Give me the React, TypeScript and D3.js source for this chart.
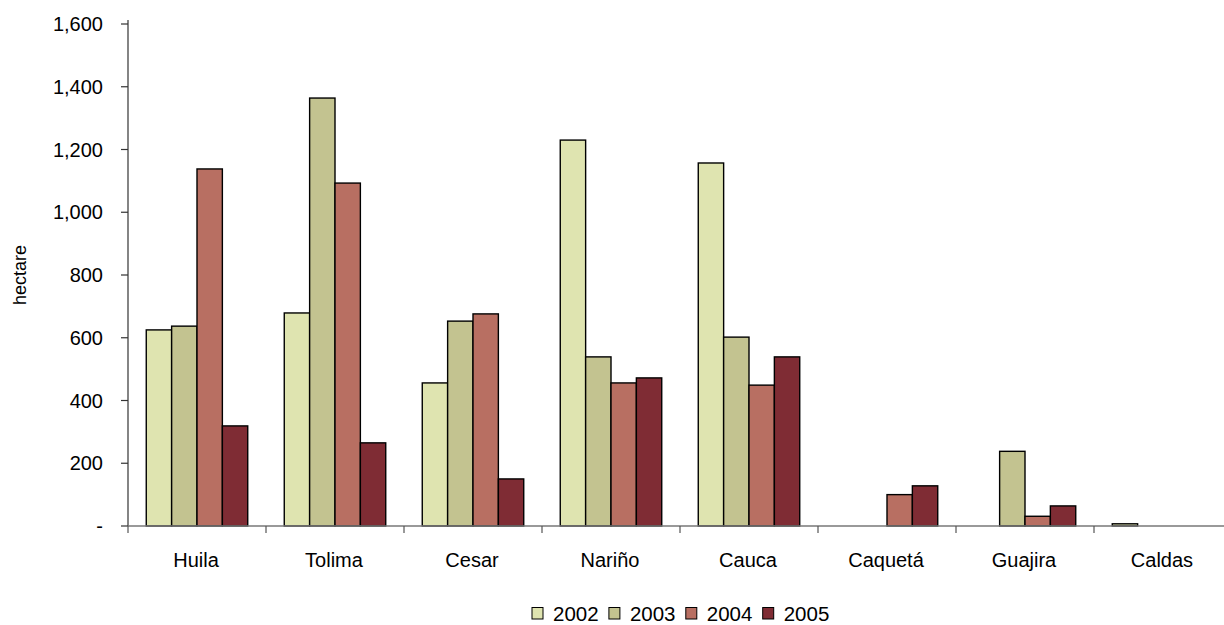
import * as d3 from 'd3'

const regions = ['Huila', 'Tolima', 'Cesar', 'Nariño', 'Cauca', 'Caquetá', 'Guajira', 'Caldas']
const years = ['2002', '2003', '2004', '2005']
const y2002 = [625, 679, 456, 1230, 1157, 0, 0, 7]
const y2003 = [637, 1364, 653, 539, 602, 0, 238, 0]
const y2004 = [1138, 1093, 676, 456, 449, 100, 31, 0]
const y2005 = [319, 265, 150, 472, 539, 128, 64, 0]
const yTicks = [0, 200, 400, 600, 800, 1000, 1200, 1400, 1600]

const series = [y2002, y2003, y2004, y2005]
const COLORS = ['#DFE4B0', '#C3C390', '#B86F62', '#7F2C34']

const W = 1224
const H = 625
const margin = { top: 24, left: 128, bottom: 99 }
const plotRight = 1232

export default function App() {
  const x = d3.scaleBand<string>()
    .domain(regions)
    .range([margin.left, plotRight])
    .paddingInner(0)
    .paddingOuter(0)

  const inner = d3.scaleBand<string>()
    .domain(years)
    .range([0, x.bandwidth()])
    .paddingOuter(0.72)
    .paddingInner(0)

  const y = d3.scaleLinear()
    .domain([0, 1600])
    .range([H - margin.bottom, margin.top])

  const fmt = d3.format(',')
  const base = y(0)
  const font = '"Liberation Sans", Arial, sans-serif'

  const boundaries = [...regions.map((r) => x(r) as number), plotRight]

  return (
    <svg width={W} height={H} style={{ position: 'absolute', left: 0, top: 0, background: '#fff' }} fontFamily={font}>
      {/* bars */}
      {series.map((vals, si) =>
        vals.map((v, ri) =>
          v > 0 ? (
            <rect
              key={`${si}-${ri}`}
              x={(x(regions[ri]) as number) + (inner(years[si]) as number)}
              y={y(v)}
              width={inner.bandwidth()}
              height={base - y(v)}
              fill={COLORS[si]}
              stroke="#000"
              strokeWidth={1.4}
            />
          ) : null
        )
      )}

      {/* y axis */}
      <line x1={margin.left} x2={margin.left} y1={margin.top - 4} y2={base} stroke="#333" strokeWidth={1.2} />
      {yTicks.map((t) => (
        <g key={t}>
          <line x1={margin.left - 7} x2={margin.left} y1={y(t)} y2={y(t)} stroke="#333" strokeWidth={1.2} />
          <text x={103} y={y(t)} dy="0.36em" textAnchor="end" fontSize={20} fill="#000">
            {t === 0 ? '-' : fmt(t)}
          </text>
        </g>
      ))}

      {/* x axis */}
      <line x1={margin.left} x2={W} y1={base} y2={base} stroke="#777" strokeWidth={1.4} />
      {boundaries.map((b, i) => (
        <line key={i} x1={b} x2={b} y1={base} y2={base + 7} stroke="#555" strokeWidth={1.2} />
      ))}
      {regions.map((r) => (
        <text key={r} x={(x(r) as number) + x.bandwidth() / 2 - 1} y={567} textAnchor="middle" fontSize={20} fill="#000">
          {r}
        </text>
      ))}

      {/* y label */}
      <text transform={`translate(26,${(margin.top + base) / 2}) rotate(-90)`} textAnchor="middle" fontSize={18} fill="#000">
        hectare
      </text>

      {/* legend */}
      {years.map((yr, i) => (
        <g key={yr} transform={`translate(${532 + i * 76.9},607.5)`}>
          <rect x={0} y={0} width={11} height={11.5} fill={COLORS[i]} stroke="#000" strokeWidth={1} />
          <text x={21} y={13} fontSize={20.5} fill="#000">{yr}</text>
        </g>
      ))}
    </svg>
  )
}
